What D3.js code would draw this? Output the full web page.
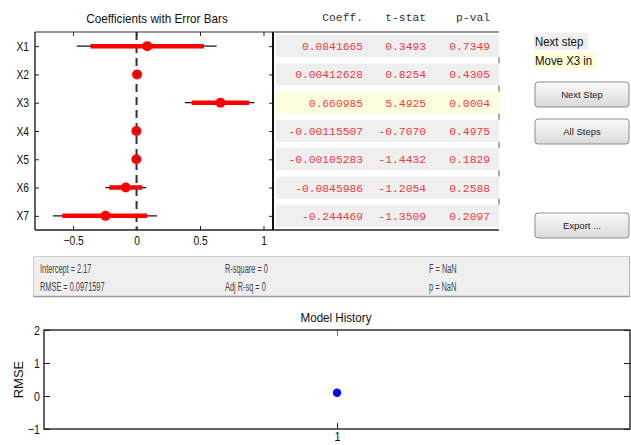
<!DOCTYPE html>
<html>
<head>
<meta charset="utf-8">
<script src="https://cdn.jsdelivr.net/npm/d3@7"></script>
<style>
body{margin:0;background:#fff;}
svg{display:block;font-family:"Liberation Sans",Arial,sans-serif;}
</style>
</head>
<body>
<svg id="chart" width="631" height="445"></svg>
<script>
// stepwise regression panel values
var terms = ["X1", "X2", "X3", "X4", "X5", "X6", "X7"];
var coeffs = [0.0841665, 0.00412628, 0.660985, -0.00115507, -0.00105283, -0.0845986, -0.244469];
var tStats = [0.3493, 0.8254, 5.4925, -0.7070, -1.4432, -1.2054, -1.3509];
var pVals = [0.7349, 0.4305, 0.0004, 0.4975, 0.1829, 0.2588, 0.2097];
// 90% (thick) and 95% (thin) intervals
var ci90Lo = [-0.363, -0.005, 0.434, -0.0042, -0.0024, -0.215, -0.585];
var ci90Hi = [0.531, 0.013, 0.886, 0.0019, 0.0003, 0.046, 0.085];
var ci95Lo = [-0.471, -0.007, 0.381, -0.005, -0.0027, -0.246, -0.659];
var ci95Hi = [0.631, 0.016, 0.928, 0.0026, 0.0006, 0.077, 0.161];
var coefTicks = [-0.5, 0, 0.5, 1];
var highlightRow = 2;
var tableHeaders = ["Coeff.", "t-stat", "p-val"];

var summaryCol1 = ["Intercept = 2.17", "RMSE = 0.0971597"];
var summaryCol2 = ["R-square = 0", "Adj R-sq = 0"];
var summaryCol3 = ["F = NaN", "p = NaN"];

var nextStepLabel = "Next step";
var nextStepAction = "Move X3 in";
var buttonLabels = ["Next Step", "All Steps", "Export ..."];

var historySteps = [1];
var historyRmse = [0.0971597];
var historyYTicks = [-1, 0, 1, 2];
var historyXTicks = [1];

var svg = d3.select("#chart");

// squeeze text horizontally (matlab fonts render narrow)
function squeeze(sel, k){
  sel.each(function(){
    var w = this.getComputedTextLength();
    this.setAttribute("textLength", w * k);
    this.setAttribute("lengthAdjust", "spacingAndGlyphs");
  });
}

//==================== coefficients plot ====================
var cL = 35, cR = 273, cT = 32, cB = 230;
var x = d3.scaleLinear().domain([-0.8, 1.075]).range([cL, cR]);
var y = d3.scaleLinear().domain([0.5, 7.5]).range([cT, cB]);
var rows = terms.map(function(t, i){
  return {key: t, i: i, c: coeffs[i], t: tStats[i], p: pVals[i],
          lo90: ci90Lo[i], hi90: ci90Hi[i], lo95: ci95Lo[i], hi95: ci95Hi[i]};
});

// table bands first (they sit right of the axes)
var tableRight = 499;
svg.selectAll(".band").data(rows).enter().append("rect")
  .attr("x", cR + 3).attr("width", tableRight - cR - 3)
  .attr("y", function(d){ return y(d.i + 1) - 11; })
  .attr("height", 22)
  .attr("fill", function(d){ return d.i == highlightRow ? "#ffffdf" : "#efefef"; });

svg.append("text").attr("x", 157).attr("y", 18).attr("dy", "0.35em")
  .attr("text-anchor", "middle").attr("font-size", 13).attr("fill", "#111")
  .text("Coefficients with Error Bars").call(squeeze, 0.9);

var xAxisB = d3.axisBottom(x).tickValues(coefTicks).tickSizeInner(-4).tickSizeOuter(0).tickPadding(6)
  .tickFormat(d3.format(""));
var xAxisT = d3.axisTop(x).tickValues(coefTicks).tickSizeInner(-4).tickSizeOuter(0).tickFormat("");
var yAxisL = d3.axisLeft(y).tickValues(d3.range(1, 8)).tickSizeInner(-4).tickSizeOuter(0).tickPadding(6)
  .tickFormat(function(d){ return terms[d - 1]; });
var yAxisR = d3.axisRight(y).tickValues(d3.range(1, 8)).tickSizeInner(-4).tickSizeOuter(0).tickFormat("");

function styleAxis(g, fs){
  g.select(".domain").remove();
  g.selectAll(".tick line").attr("stroke", "#222");
  g.selectAll("text").attr("font-size", fs).attr("fill", "#111")
    .attr("font-family", "Liberation Sans, Arial, sans-serif");
}
svg.append("g").attr("transform", "translate(0," + cB + ")").call(xAxisB)
  .call(styleAxis, 12.5).selectAll("text").call(squeeze, 0.82);
svg.append("g").attr("transform", "translate(0," + cT + ")").call(xAxisT).call(styleAxis, 12);
svg.append("g").attr("transform", "translate(" + cL + ",0)").call(yAxisL)
  .call(styleAxis, 12.5).selectAll("text").call(squeeze, 0.82);
svg.append("g").attr("transform", "translate(" + cR + ",0)").call(yAxisR).call(styleAxis, 12);

// zero line
svg.append("line").attr("x1", x(0)).attr("x2", x(0)).attr("y1", cT).attr("y2", cB)
  .attr("stroke", "#333").attr("stroke-width", 2).attr("stroke-dasharray", "8,5");

var g = svg.append("g");
g.selectAll(".ci95").data(rows).enter().append("line")
  .attr("x1", function(d){ return x(d.lo95); })
  .attr("x2", function(d){ return x(d.hi95); })
  .attr("y1", function(d){ return y(d.i + 1); })
  .attr("y2", function(d){ return y(d.i + 1); })
  .attr("stroke", "#111").attr("stroke-width", 1.2);
g.selectAll(".ci90").data(rows).enter().append("line")
  .attr("x1", function(d){ return x(d.lo90); })
  .attr("x2", function(d){ return x(d.hi90); })
  .attr("y1", function(d){ return y(d.i + 1); })
  .attr("y2", function(d){ return y(d.i + 1); })
  .attr("stroke", "#ff0000").attr("stroke-width", 4.5);
g.selectAll("circle").data(rows).enter().append("circle")
  .attr("cx", function(d){ return x(d.c); })
  .attr("cy", function(d){ return y(d.i + 1); })
  .attr("r", 5).attr("fill", "#ff0000");
// tiny black centre on the near-zero terms (the 95% bar peeking through)
g.selectAll(".speck").data(rows.filter(function(d){ return Math.abs(d.c) < 0.01; })).enter().append("circle")
  .attr("cx", function(d){ return x(d.c); })
  .attr("cy", function(d){ return y(d.i + 1); })
  .attr("r", 1).attr("fill", "#300");

// frame
svg.append("line").attr("x1", cL).attr("x2", tableRight).attr("y1", cT).attr("y2", cT).attr("stroke", "#333").attr("stroke-width", 1.2);
svg.append("line").attr("x1", cL).attr("x2", tableRight).attr("y1", cB).attr("y2", cB).attr("stroke", "#222").attr("stroke-width", 1.6);
svg.append("line").attr("x1", cL).attr("x2", cL).attr("y1", cT).attr("y2", cB).attr("stroke", "#222").attr("stroke-width", 1.4);
svg.append("line").attr("x1", cR).attr("x2", cR).attr("y1", cT).attr("y2", cB).attr("stroke", "#111").attr("stroke-width", 2);
// little marks on the table's right edge
svg.selectAll(".rtick").data(d3.range(1, 7)).enter().append("line")
  .attr("x1", tableRight).attr("x2", tableRight)
  .attr("y1", function(d){ return y(d + 0.5) - 3; })
  .attr("y2", function(d){ return y(d + 0.5) + 3; })
  .attr("stroke", "#555").attr("stroke-width", 1);

// table text
var colRight = [363, 426, 490];
var mono = "Liberation Mono, Courier New, monospace";
svg.selectAll(".hdr").data(tableHeaders).enter().append("text")
  .attr("x", function(d, i){ return colRight[i]; }).attr("y", 17).attr("dy", "0.35em")
  .attr("text-anchor", "end").attr("font-family", mono).attr("font-size", 11.3)
  .attr("fill", "#333").text(function(d){ return d; });
var cellFmt = [function(d){ return d.c.toPrecision(6); },
               function(d){ return d.t.toFixed(4); },
               function(d){ return d.p.toFixed(4); }];
cellFmt.forEach(function(f, j){
  svg.selectAll(".col" + j).data(rows).enter().append("text")
    .attr("x", colRight[j]).attr("y", function(d){ return y(d.i + 1); }).attr("dy", "0.35em")
    .attr("text-anchor", "end").attr("font-family", mono).attr("font-size", 11.3)
    .attr("fill", "#ec3a44").text(f);
});

//==================== right panel ====================
svg.append("rect").attr("x", 534).attr("y", 33).attr("width", 54).attr("height", 17).attr("fill", "#efefef");
svg.append("rect").attr("x", 534).attr("y", 52).attr("width", 62).attr("height", 17).attr("fill", "#ffffd8");
svg.append("text").attr("x", 535).attr("y", 41.5).attr("dy", "0.35em").attr("font-size", 13).attr("fill", "#111")
  .text(nextStepLabel).call(squeeze, 0.88);
svg.append("text").attr("x", 535).attr("y", 60.5).attr("dy", "0.35em").attr("font-size", 13).attr("fill", "#111")
  .text(nextStepAction).call(squeeze, 0.88);

var defs = svg.append("defs");
var grad = defs.append("linearGradient").attr("id", "btn").attr("x1", 0).attr("x2", 0).attr("y1", 0).attr("y2", 1);
grad.append("stop").attr("offset", "0%").attr("stop-color", "#fbfbfb");
grad.append("stop").attr("offset", "100%").attr("stop-color", "#d9d9d9");
var btnTop = [82, 119, 213];
var btn = svg.selectAll(".btn").data(buttonLabels).enter().append("g")
  .attr("transform", function(d, i){ return "translate(535," + btnTop[i] + ")"; });
btn.append("rect").attr("width", 94).attr("height", 25).attr("rx", 3)
  .attr("fill", "url(#btn)").attr("stroke", "#8e8e8e");
btn.append("text").attr("x", 47).attr("y", 12.5).attr("dy", "0.35em").attr("text-anchor", "middle")
  .attr("font-size", 9.5).attr("fill", "#222").text(function(d){ return d; });

//==================== summary box ====================
svg.append("rect").attr("x", 33.5).attr("y", 256.5).attr("width", 596).attr("height", 40)
  .attr("fill", "#efefef").attr("stroke", "#cfcfcf");
svg.append("line").attr("x1", 33.5).attr("x2", 629.5).attr("y1", 296.5).attr("y2", 296.5).attr("stroke", "#9a9a9a").attr("stroke-width", 1.5);
svg.append("line").attr("x1", 629.5).attr("x2", 629.5).attr("y1", 256.5).attr("y2", 296.5).attr("stroke", "#b0b0b0");
var sumCols = [summaryCol1, summaryCol2, summaryCol3];
var sumX = [40, 225, 429];
var sumY = [268.5, 286.5];
sumCols.forEach(function(col, j){
  svg.selectAll(".sum" + j).data(col).enter().append("text")
    .attr("x", sumX[j]).attr("y", function(d, i){ return sumY[i]; }).attr("dy", "0.35em")
    .attr("font-size", 12.5).attr("fill", "#444").text(function(d){ return d; })
    .call(squeeze, 0.59);
});

//==================== model history ====================
var hl = 44, hr = 630, ht = 330, hb = 429;
var hx = d3.scaleLinear().domain([0, 2]).range([hl, hr]);
var hy = d3.scaleLinear().domain([-1, 2]).range([hb, ht]);

svg.append("text").attr("x", 336).attr("y", 317).attr("dy", "0.35em").attr("text-anchor", "middle")
  .attr("font-size", 13.5).attr("fill", "#111").text("Model History").call(squeeze, 0.86);

svg.append("g").attr("transform", "translate(0," + hb + ")")
  .call(d3.axisBottom(hx).tickValues(historyXTicks).tickSizeInner(-6).tickSizeOuter(0).tickPadding(3).tickFormat(d3.format("d")))
  .call(styleAxis, 12).selectAll("text").call(squeeze, 0.9);
svg.append("g").attr("transform", "translate(0," + ht + ")")
  .call(d3.axisTop(hx).tickValues(historyXTicks).tickSizeInner(-6).tickSizeOuter(0).tickFormat(""))
  .call(styleAxis, 12).selectAll(".tick line").attr("stroke", "#777");
svg.append("g").attr("transform", "translate(" + hl + ",0)")
  .call(d3.axisLeft(hy).tickValues(historyYTicks).tickSizeInner(-6).tickSizeOuter(0).tickPadding(4).tickFormat(d3.format("d")))
  .call(styleAxis, 12.5).selectAll("text").call(squeeze, 0.85);
svg.append("g").attr("transform", "translate(" + hr + ",0)")
  .call(d3.axisRight(hy).tickValues(historyYTicks).tickSizeInner(-6).tickSizeOuter(0).tickFormat(""))
  .call(styleAxis, 12);

svg.append("rect").attr("x", hl).attr("y", ht).attr("width", hr - hl).attr("height", hb - ht)
  .attr("fill", "none").attr("stroke", "#222").attr("stroke-width", 1.4);

svg.append("text").attr("transform", "translate(18," + ((ht + hb) / 2) + ") rotate(-90)")
  .attr("dy", "0.35em").attr("text-anchor", "middle").attr("font-size", 13).attr("fill", "#111").text("RMSE");

svg.selectAll(".hist").data(historySteps).enter().append("circle")
  .attr("cx", function(d){ return hx(d); })
  .attr("cy", function(d, i){ return hy(historyRmse[i]); })
  .attr("r", 4.2).attr("fill", "#0000ff");
</script>
</body>
</html>
